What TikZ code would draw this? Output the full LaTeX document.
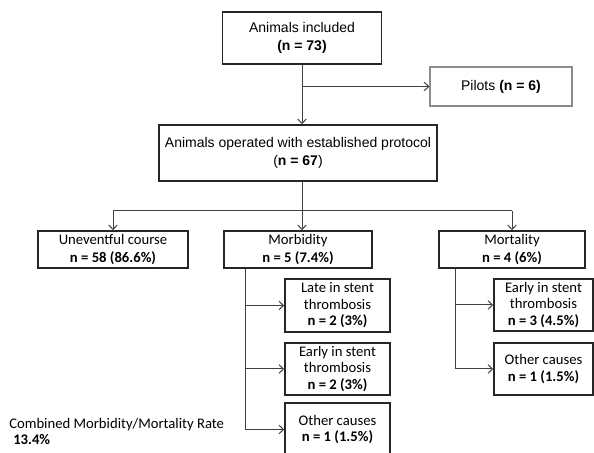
\documentclass[tikz,border=0pt]{standalone}
\usepackage{fontspec}
\setmainfont{Carlito}
\newfontfamily\arialfont{Liberation Sans}
\usepackage{xcolor}
\usepackage{tikz}
\usetikzlibrary{arrows.meta, positioning}

\begin{document}
\begin{tikzpicture}[
            x=0.75pt, y=-0.75pt,
            topbox/.style={draw=black!85, line width=1.1pt, rectangle, inner sep=0pt, align=center, font=\arialfont\fontsize{10.5}{13.5}\selectfont},
            outbox/.style={draw=black!85, line width=1.1pt, rectangle, inner sep=0pt, align=center, font=\fontsize{11}{14}\selectfont},
            subbox/.style={draw=black!85, line width=1.1pt, rectangle, inner sep=0pt, align=center, font=\fontsize{11}{12.4}\selectfont},
            arrow/.style={-{Straight Barb[length=3.5pt, width=6.5pt]}, line width=0.75pt, draw=black!75},
            line/.style={line width=0.75pt, draw=black!75},
            lbl/.style={font=\fontsize{11}{12}\selectfont, anchor=west, inner sep=0pt}
        ]
        \useasboundingbox (0,0) rectangle (594,453);

        % --- Inclusion ---
        \node[topbox, minimum width=119.25pt, minimum height=39pt] (inc) at (302, 38) {Animals included\\\textbf{(n = 73)}};
        \node[topbox, draw=black!45, line width=0.8pt, minimum width=106.5pt, minimum height=29.25pt] (pil) at (501, 86.5) {Pilots \textbf{(n = 6)}};
        \node[topbox, minimum width=208.5pt, minimum height=42pt] (op) at (298, 153) {Animals operated with established protocol\\(\textbf{n = 67})};

        \draw[arrow] (inc.south) -- (inc.south |- op.north);
        \draw[arrow] (inc.south |- pil.west) -- (pil.west);

        % --- Outcome ---
        \node[outbox, minimum width=112.5pt, minimum height=27.75pt] (unev) at (113, 249.5) {Uneventful course\\\textbf{n = 58 (86.6\%)}};
        \node[outbox, minimum width=111pt, minimum height=27.75pt] (morb) at (298, 249.5) {Morbidity\\\textbf{n = 5 (7.4\%)}};
        \node[outbox, minimum width=109.5pt, minimum height=27.75pt] (mort) at (512, 249.5) {Mortality\\\textbf{n = 4 (6\%)}};

        \coordinate (bar) at (0, 211);
        \draw[line] (unev.north |- bar) -- (mort.north |- bar);
        \draw[arrow] (op.south -| inc.south) -- (inc.south |- morb.north);
        \draw[arrow] (unev.north |- bar) -- (unev.north);
        \draw[arrow] (mort.north |- bar) -- (mort.north);

        % --- Morbidity causes ---
        \node[subbox, minimum width=78.75pt, minimum height=39.75pt] (mb1) at (337.5, 305.5) {Late in stent\\thrombosis\\\textbf{n = 2 (3\%)}};
        \node[subbox, minimum width=78.75pt, minimum height=39pt] (mb2) at (337.5, 369) {Early in stent\\thrombosis\\\textbf{n = 2 (3\%)}};
        \node[subbox, minimum width=78.75pt, minimum height=39.75pt] (mb3) at (337.5, 429.5) {Other causes\\\textbf{n = 1 (1.5\%)}};

        \coordinate (mbtrunk) at (245, 0);
        \draw[line] (morb.south -| mbtrunk) -- (mbtrunk |- mb3.west);
        \draw[arrow] (mbtrunk |- mb1.west) -- (mb1.west);
        \draw[arrow] (mbtrunk |- mb2.west) -- (mb2.west);
        \draw[arrow] (mbtrunk |- mb3.west) -- (mb3.west);

        % --- Mortality causes ---
        \node[subbox, minimum width=74.25pt, minimum height=39pt] (mt1) at (543.5, 305) {Early in stent\\thrombosis\\\textbf{n = 3 (4.5\%)}};
        \node[subbox, minimum width=74.25pt, minimum height=39pt] (mt2) at (543.5, 369) {Other causes\\\textbf{n = 1 (1.5\%)}};

        \coordinate (mttrunk) at (455, 0);
        \draw[line] (mort.south -| mttrunk) -- (mttrunk |- mt2.west);
        \draw[arrow] (mttrunk |- mt1.west) -- (mt1.west);
        \draw[arrow] (mttrunk |- mt2.west) -- (mt2.west);

        % Combined rate
        \node[lbl] (rate) at (9, 424.5) {Combined Morbidity/Mortality Rate};
        \node[lbl, font=\fontsize{11}{12}\selectfont\bfseries] (ratev) at (13, 439.5) {13.4\%};

    \end{tikzpicture}
\end{document}
